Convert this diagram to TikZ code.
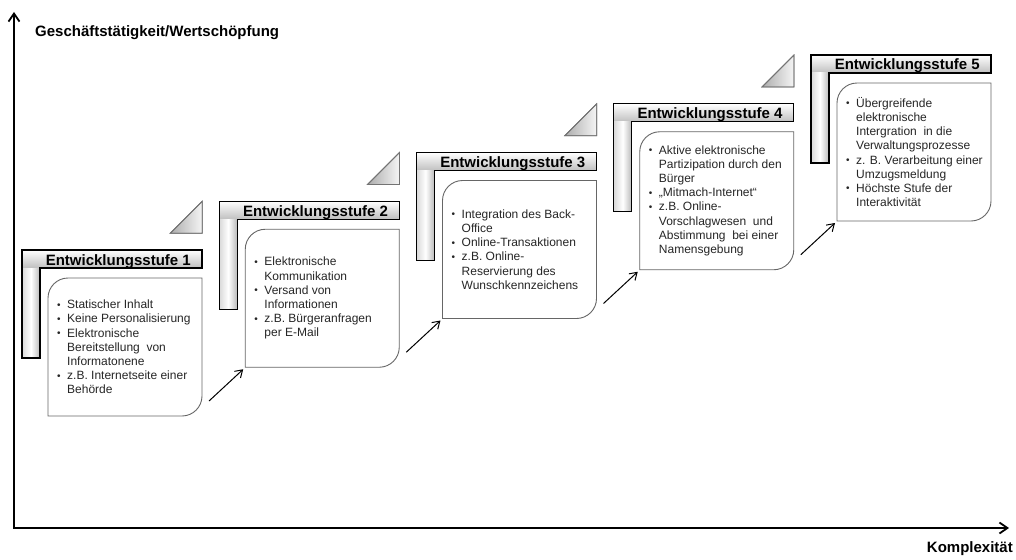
\documentclass[tikz,border=0pt]{standalone}
\usepackage{fontspec}
\setmainfont{Liberation Sans}
\usetikzlibrary{arrows.meta,calc}
\newcommand\bul{\makebox[10pt][l]{\raisebox{0.5pt}{\fontsize{10}{10}\selectfont\textbullet}}}
\newcommand\ind{\hspace*{10pt}}
\tikzset{
  lframe/.style={draw=black, line width=1.1pt, line join=miter},
  boxline/.style={draw=black!60, line width=0.9pt, fill=white},
  boxnode/.style={draw=none, inner sep=0pt, outer sep=0pt, minimum width=154pt, minimum height=138pt},
  titletext/.style={font=\bfseries\fontsize{15}{18}\selectfont, inner sep=0pt, text=black},
  bullettext/.style={font=\fontsize{12}{14.2}\selectfont, align=left, inner sep=0pt, text=black!85},
  triangle/.style={draw=black!55, line width=0.8pt, left color=gray!65, right color=gray!8},
  axis/.style={line width=1.8pt, {Straight Barb[length=8pt,width=11pt]}-{Straight Barb[length=8pt,width=11pt]}},
  smallarrow/.style={line width=1pt, -{Straight Barb[length=7pt,width=9pt]}},
  axislabel/.style={font=\bfseries\fontsize{15}{18}\selectfont, inner sep=0pt}
}
% #1 index, #2 X, #3 Y (top-left of L frame), #4 bullet text
\newcommand\stufe[4]{%
  \shade[top color=white, bottom color=gray!50] (#2,#3) rectangle ({#2+180},{#3+18});
  \shade[left color=gray!30, right color=gray!55, middle color=white] (#2,{#3+18}) rectangle ({#2+18},{#3+108});
  \draw[lframe] (#2,#3) -- ({#2+180},#3) -- ({#2+180},{#3+18}) -- ({#2+18},{#3+18}) -- ({#2+18},{#3+108}) -- (#2,{#3+108}) -- cycle;
  \node[titletext, anchor=base east] (title#1) at ({#2+169},{#3+15}) {Entwicklungsstufe #1};
  \node[boxnode, anchor=north west] (box#1) at ({#2+26},{#3+28}) {};
  \draw[boxline] ({#2+26},{#3+48}) .. controls ({#2+26},{#3+37}) and ({#2+35},{#3+28}) .. ({#2+46},{#3+28})
     -- ({#2+180},{#3+28}) -- ({#2+180},{#3+146})
     .. controls ({#2+180},{#3+157}) and ({#2+171},{#3+166}) .. ({#2+160},{#3+166})
     -- ({#2+26},{#3+166}) -- cycle;
  \node[bullettext, anchor=west] (text#1) at ({#2+35},{#3+97}) {#4};
}
\newcommand\dreieck[2]{%
  \shade[triangle] ({#1-49},{#2+32}) -- ({#1-17},#2) -- ({#1-17},{#2+32}) -- cycle;
  \draw[draw=black!55, line width=0.8pt] ({#1-49},{#2+32}) -- ({#1-17},#2) -- ({#1-17},{#2+32}) -- cycle;
}
\begin{document}
\begin{tikzpicture}[x=1pt, y=-1pt]
\useasboundingbox (0,0) rectangle (1016,559);
% axes
\coordinate (ytip) at (14,12);
\coordinate (origin) at (14,528);
\coordinate (xtip) at (1009,528);
\draw[axis] (ytip) -- (origin) -- (xtip);
\node[axislabel, anchor=base west] (ylabel) at (35,37) {Geschäftstätigkeit/Wertschöpfung};
\node[axislabel, anchor=base east] (xlabel) at (1013,552) {Komplexität};
% triangles
\dreieck{219.25}{201.25}
\dreieck{416.5}{152.5}
\dreieck{613.75}{103.75}
\dreieck{811}{55}
% stages
\stufe{1}{22}{250}{\bul Statischer Inhalt\\
\bul Keine Personalisierung\\
\bul Elektronische\\
\ind Bereitstellung \ von\\
\ind Informatonene\\
\bul z.B. Internetseite einer\\
\ind Behörde}
\stufe{2}{219.25}{201.25}{\bul Elektronische\\
\ind Kommunikation\\
\bul Versand von\\
\ind Informationen\\
\bul z.B. Bürgeranfragen\\
\ind per E-Mail}
\stufe{3}{416.5}{152.5}{\bul Integration des Back-\\
\ind Office\\
\bul Online-Transaktionen\\
\bul z.B. Online-\\
\ind Reservierung des\\
\ind Wunschkennzeichens}
\stufe{4}{613.75}{103.75}{\bul Aktive elektronische\\
\ind Partizipation durch den\\
\ind Bürger\\
\bul „Mitmach-Internet“\\
\bul z.B. Online-\\
\ind Vorschlagwesen \ und\\
\ind Abstimmung \ bei einer\\
\ind Namensgebung}
\stufe{5}{811}{55}{\bul Übergreifende\\
\ind elektronische\\
\ind Intergration \ in die\\
\ind Verwaltungsprozesse\\
\bul z. B. Verarbeitung einer\\
\ind Umzugsmeldung\\
\bul Höchste Stufe der\\
\ind Interaktivität}
% arrows between stages
\draw[smallarrow] ([shift={(7,-15)}]box1.south east) -- ([shift={(-2,2)}]box2.south west);
\draw[smallarrow] ([shift={(7,-15)}]box2.south east) -- ([shift={(-2,2)}]box3.south west);
\draw[smallarrow] ([shift={(7,-15)}]box3.south east) -- ([shift={(-2,2)}]box4.south west);
\draw[smallarrow] ([shift={(7,-15)}]box4.south east) -- ([shift={(-2,2)}]box5.south west);
\end{tikzpicture}
\end{document}
